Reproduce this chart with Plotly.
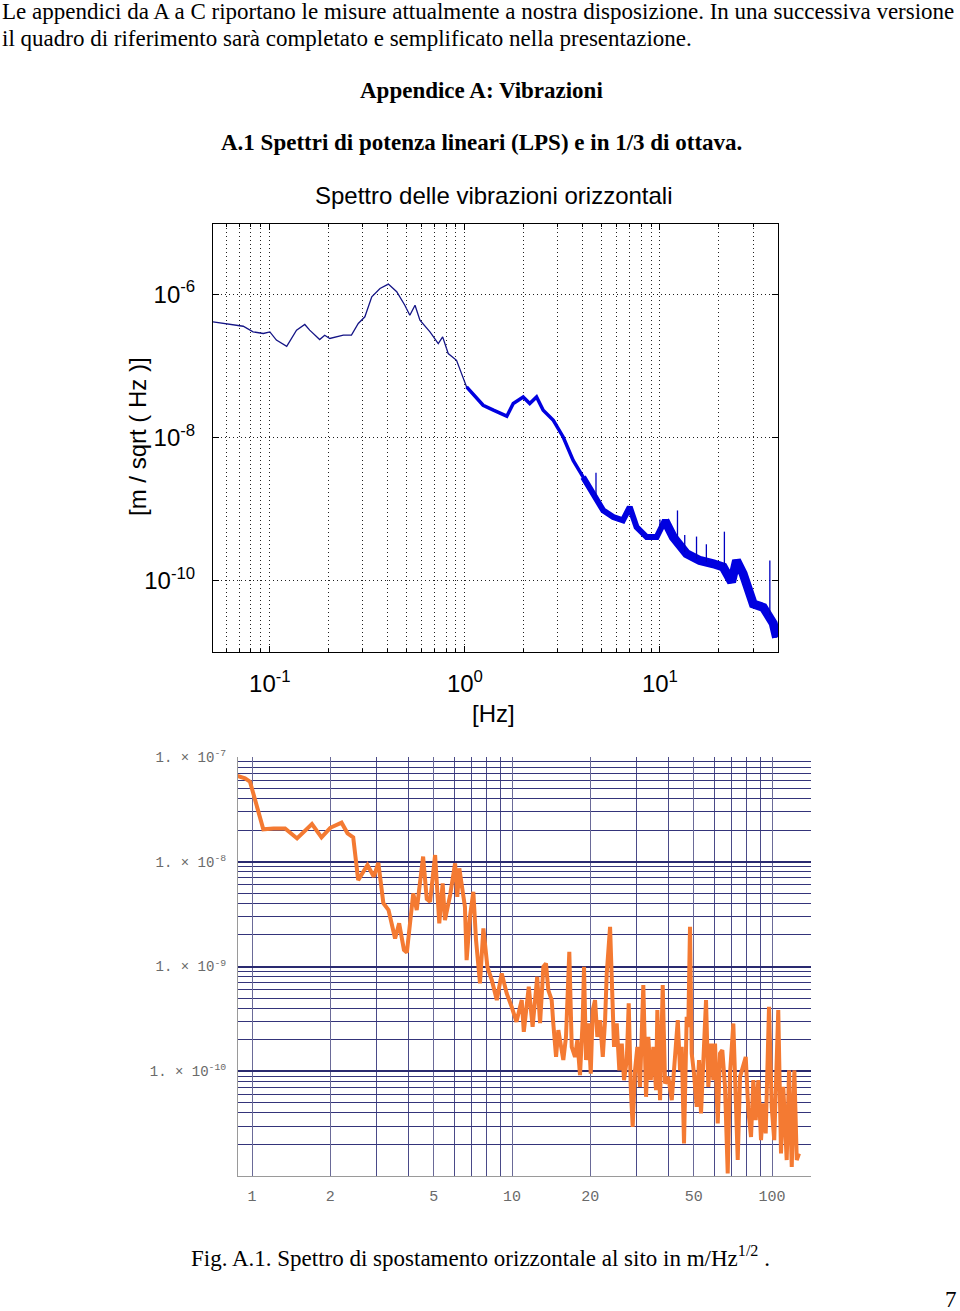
import math
import plotly.graph_objects as go

W, H = 960, 1311

# ---------------- top chart (MATLAB style, horizontal vibration spectrum) -------------
top_freq = [
    0.0511, 0.073, 0.082, 0.0925, 0.1,
    0.108, 0.122, 0.137, 0.151, 0.160,
    0.180, 0.191, 0.203, 0.238, 0.262,
    0.284, 0.307, 0.333, 0.367, 0.405,
    0.447, 0.492, 0.522, 0.555, 0.588,
    0.662, 0.730, 0.769, 0.821, 0.906,
    1.02, 1.10, 1.24, 1.40, 1.64,
    1.77, 1.99, 2.15, 2.33, 2.52,
    2.84, 3.19, 3.59, 4.04, 4.55,
    5.12, 5.76, 6.46, 7.0, 7.59,
    8.55, 9.62, 10.6, 11.7, 13.7,
    16.0, 18.8, 21.1, 23.3, 24.7,
    26.7, 30.1, 33.9, 38.1, 39.6]
top_amp = [
    4.1e-7, 3.56e-7, 2.97e-7, 2.82e-7, 2.97e-7,
    2.28e-7, 1.87e-7, 3.14e-7, 3.77e-7, 3.14e-7,
    2.32e-7, 2.67e-7, 2.4e-7, 2.67e-7, 2.67e-7,
    3.89e-7, 4.82e-7, 9.2e-7, 1.2e-6, 1.38e-6,
    1.08e-6, 7.0e-7, 5.08e-7, 7.0e-7, 4.33e-7,
    2.97e-7, 2.04e-7, 2.53e-7, 1.48e-7, 1.19e-7,
    5.05e-8, 4.08e-8, 2.8e-8, 2.39e-8, 1.97e-8,
    2.96e-8, 3.66e-8, 2.96e-8, 3.66e-8, 2.39e-8,
    1.73e-8, 1.01e-8, 4.76e-9, 2.78e-9, 1.63e-9,
    9.5e-10, 7.7e-10, 6.9e-10, 1.06e-9, 5.56e-10,
    4.03e-10, 4.03e-10, 6.9e-10, 4.03e-10, 2.36e-10,
    1.9e-10, 1.71e-10, 1.54e-10, 9.5e-11, 1.9e-10,
    1.24e-10, 4.7e-11, 4.2e-11, 2.5e-11, 1.6e-11]

spike_freq = [4.7, 10.0, 12.3, 13.4, 15.4, 17.3, 21.4, 36.6]
spike_base = [1.5e-9, 4.5e-10, 4.0e-10, 2.5e-10, 2.0e-10, 1.8e-10, 1.6e-10, 3.3e-11]
spike_peak = [3.2e-9, 7.1e-10, 9.5e-10, 4.3e-10, 4.1e-10, 3.2e-10, 4.8e-10, 1.9e-10]

top_xticks = [0.1, 1, 10]
top_xticktext = ["10<sup>-1</sup>", "10<sup>0</sup>", "10<sup>1</sup>"]
top_yticks = [1e-10, 1e-8, 1e-6]
top_yticktext = ["10<sup>-10</sup>", "10<sup>-8</sup>", "10<sup>-6</sup>"]
top_xminor = [0.06, 0.07, 0.08, 0.09, 0.2, 0.3, 0.4, 0.5, 0.6, 0.7, 0.8, 0.9,
              2, 3, 4, 5, 6, 7, 8, 9, 20, 30, 40]

# ---------------- bottom chart (orange spectrum) ----------------
bottom_freq = [
    0.878, 0.940, 0.982, 1.105, 1.21, 1.34, 1.49, 1.70, 1.85, 2.0,
    2.21, 2.33, 2.45, 2.56, 2.78, 2.94, 3.06, 3.20, 3.35, 3.55,
    3.68, 3.84, 3.94, 4.17, 4.30, 4.55, 4.70, 4.84, 5.06, 5.25,
    5.41, 5.52, 5.78, 6.04, 6.16, 6.27, 6.59, 6.69, 6.89, 7.10,
    7.27, 7.53, 7.76, 8.04, 8.36, 8.74, 9.13, 9.54, 9.97, 10.4,
    10.9, 11.1, 11.6, 12.0, 12.5,
    12.82, 13.20, 13.51, 13.79, 14.21, 14.41, 14.77, 15.07, 15.39, 15.75,
    16.13, 16.61, 16.97, 17.47, 17.83, 18.26, 18.70, 18.92, 19.26, 19.66,
    20.08, 20.44, 20.86, 21.29, 21.81, 22.34, 22.80, 23.14, 23.83, 24.18,
    24.68, 25.28, 25.87, 26.43, 26.97, 27.63, 28.11, 28.61, 29.12, 29.72,
    30.34, 31.07, 31.99, 32.77, 33.44, 34.17, 34.96, 35.80, 36.22, 37.10,
    37.99, 38.78, 39.93, 41.15, 42.37, 43.40, 44.29, 44.96, 45.87, 46.98,
    47.65, 48.37, 49.11, 50.12, 51.33, 52.39, 53.33, 54.43, 55.75, 56.89,
    58.27, 59.47, 60.38, 61.84, 63.10, 64.40, 65.96, 67.55, 68.94, 71.0,
    72.52, 73.82, 75.34, 77.57, 79.23, 81.08, 83.05, 84.76, 86.57, 88.59,
    90.73, 92.58, 94.58, 97.39, 99.73, 102.0, 105.7, 108.3, 110.5, 113.9,
    116.3, 119.1, 121.9, 124.5, 127.0]
bottom_amp = [
    6.59e-8, 6.27e-8, 5.81e-8, 2.04e-8, 2.08e-8, 2.08e-8, 1.67e-8, 2.29e-8, 1.71e-8, 2.11e-8,
    2.36e-8, 1.87e-8, 1.71e-8, 6.68e-9, 9.3e-9, 7.19e-9, 9.78e-9, 4.01e-9, 3.46e-9, 1.85e-9,
    2.58e-9, 1.44e-9, 1.36e-9, 4.99e-9, 3.46e-9, 1.12e-8, 4.41e-9, 4.15e-9, 1.16e-8, 2.58e-9,
    6.22e-9, 2.77e-9, 4.81e-9, 9.66e-9, 4.63e-9, 8.65e-9, 3.72e-9, 1.15e-9, 2.98e-9, 5.16e-9,
    1.79e-9, 6.9e-10, 2.31e-9, 9.9e-10, 7.41e-10, 4.78e-10, 8.59e-10, 5.53e-10, 4.12e-10, 2.96e-10,
    4.78e-10, 2.38e-10, 6.4e-10, 2.65e-10, 7.98e-10,
    2.88e-10, 9.93e-10, 1.07e-9, 5.96e-10, 4.78e-10, 2.88e-10, 1.37e-10, 2.47e-10, 1.71e-10, 1.28e-10,
    2.13e-10, 1.38e-9, 1.71e-10, 1.37e-10, 1.98e-10, 9.2e-11, 3.08e-10, 9.93e-10, 1.28e-10, 2.86e-10,
    9.5e-11, 3.84e-10, 4.78e-10, 2.13e-10, 3.08e-10, 1.37e-10, 3.08e-10, 8.59e-10, 2.39e-9, 6.4e-10,
    1.71e-10, 2.86e-10, 1.02e-10, 1.84e-10, 8.22e-11, 1.28e-10, 4.45e-10, 7.1e-11, 2.94e-11, 1.02e-10,
    1.71e-10, 7.1e-11, 6.64e-10, 5.7e-11, 2.13e-10, 8.22e-11, 1.71e-10, 6.59e-11, 3.84e-10, 5.3e-11,
    6.64e-10, 7.64e-11, 8.83e-11, 5.3e-11, 1.28e-10, 3.08e-10, 1.02e-10, 1.71e-10, 2.04e-11, 3.31e-10,
    2.65e-10, 2.39e-9, 1.48e-10, 9.5e-11, 4.57e-11, 1.28e-10, 3.95e-11, 1.48e-10, 4.78e-10, 7.1e-11,
    1.84e-10, 8.22e-11, 1.84e-10, 3.17e-11, 1.48e-10, 1.59e-10, 7.1e-11, 1.06e-11, 9.5e-11, 2.86e-10,
    5.3e-11, 1.42e-11, 8.83e-11, 1.1e-10, 1.37e-10, 4.26e-11, 2.36e-11, 8.22e-11, 3.41e-11, 8.22e-11,
    2.2e-11, 4.93e-11, 2.55e-11, 4.12e-10, 4.57e-11, 2.2e-11, 3.84e-10, 1.64e-11, 7.1e-11, 1.42e-11,
    1.02e-10, 1.22e-11, 1.02e-10, 1.42e-11, 1.64e-11]

bot_xticks = [1, 2, 5, 10, 20, 50, 100]
bot_xticktext = ["1", "2", "5", "10", "20", "50", "100"]
bot_xminor = [3, 4, 6, 7, 8, 9, 30, 40, 60, 70, 80, 90]
bot_yticks = [1e-7, 1e-8, 1e-9, 1e-10]
bot_yticktext = ["1. × 10<sup>-7</sup>", "1. × 10<sup>-8</sup>",
                 "1. × 10<sup>-9</sup>", "1. × 10<sup>-10</sup>"]
bot_yminor = [k * 10.0 ** d for d in (-11, -10, -9, -8) for k in range(2, 10)]

# ---------------- page texts ----------------
intro_1 = "Le appendici da A a C riportano le misure attualmente a nostra disposizione. In una successiva versione"
intro_2 = "il quadro di riferimento sarà completato e semplificato nella presentazione."
heading_1 = "Appendice A: Vibrazioni"
heading_2 = "A.1 Spettri di potenza lineari (LPS) e in 1/3 di ottava."
top_title = "Spettro delle vibrazioni orizzontali"
top_ylabel = "[m / sqrt ( Hz )]"
top_xlabel = "[Hz]"
caption = "Fig. A.1. Spettro di spostamento orizzontale al sito in m/Hz<sup>1/2</sup> ."
page_no = "7"

fig = go.Figure()

# thin base line
fig.add_trace(go.Scatter(x=top_freq, y=top_amp, mode="lines",
                         line=dict(color="#141486", width=1.3),
                         xaxis="x", yaxis="y", hoverinfo="skip"))
# noisy band (thicker where the measured spectrum is noisy)
for fmin, wdt in ((1.0, 3.5), (4.0, 6), (10.3, 9)):
    xs = [f for f in top_freq if f >= fmin]
    ys = [a for f, a in zip(top_freq, top_amp) if f >= fmin]
    fig.add_trace(go.Scatter(x=xs, y=ys, mode="lines",
                             line=dict(color="#0000e0", width=wdt),
                             xaxis="x", yaxis="y", hoverinfo="skip"))
sx, sy = [], []
for f, b, p in zip(spike_freq, spike_base, spike_peak):
    sx += [f, f, None]
    sy += [b, p, None]
fig.add_trace(go.Scatter(x=sx, y=sy, mode="lines", line=dict(color="#0000c0", width=1.3),
                         xaxis="x", yaxis="y", hoverinfo="skip"))

fig.add_trace(go.Scatter(x=bottom_freq, y=bottom_amp, mode="lines",
                         line=dict(color="#f47a32", width=4),
                         xaxis="x2", yaxis="y2", hoverinfo="skip"))

sans = "Liberation Sans, Arial, sans-serif"
serif = "Liberation Serif, Times New Roman, serif"
mono = "Liberation Mono, Courier New, monospace"

DOT = "1px,3px"
top_grid = dict(showgrid=True, gridcolor="#202020", griddash=DOT, gridwidth=1)

fig.update_layout(
    width=W, height=H, margin=dict(l=0, r=0, t=0, b=0, autoexpand=False),
    paper_bgcolor="white", plot_bgcolor="white", showlegend=False,
    xaxis=dict(type="log", domain=[213 / W, 778 / W], anchor="y",
               range=[math.log10(0.0511), math.log10(40.3)],
               tickmode="array", tickvals=top_xticks, ticktext=top_xticktext,
               tickfont=dict(family=sans, size=24, color="black"),
               ticks="inside", ticklen=6, tickcolor="black",
               showline=True, linecolor="black", linewidth=1, mirror="ticks",
               zeroline=False, ticklabelstandoff=10, **top_grid,
               minor=dict(tickmode="array", tickvals=top_xminor, showgrid=True,
                          gridcolor="#202020", griddash=DOT, gridwidth=1,
                          ticks="inside", ticklen=3, tickcolor="black")),
    yaxis=dict(type="log", domain=[1 - 652 / H, 1 - 224 / H], anchor="x",
               range=[-11.0, -5.02],
               tickmode="array", tickvals=top_yticks, ticktext=top_yticktext,
               tickfont=dict(family=sans, size=24, color="black"),
               ticks="inside", ticklen=6, tickcolor="black",
               showline=True, linecolor="black", linewidth=1, mirror="ticks",
               zeroline=False, ticklabelstandoff=12, **top_grid),
    xaxis2=dict(type="log", domain=[238 / W, 811 / W], anchor="y2",
                range=[-0.054, 2.150],
                tickmode="array", tickvals=bot_xticks, ticktext=bot_xticktext,
                tickfont=dict(family=mono, size=15, color="#6a6a6a"),
                ticks="", showline=True, linecolor="#9a9a9a", linewidth=1,
                zeroline=False, ticklabelstandoff=6,
                showgrid=True, gridcolor="#6a6a98", gridwidth=1.2,
                minor=dict(tickmode="array", tickvals=bot_xminor, showgrid=True,
                           gridcolor="#4a4a88", gridwidth=1.2)),
    yaxis2=dict(type="log", domain=[1 - 1176 / H, 1 - 757 / H], anchor="x2",
                range=[-11.0, -7.0],
                tickmode="array", tickvals=bot_yticks, ticktext=bot_yticktext,
                tickfont=dict(family=mono, size=14, color="#6a6a6a"),
                ticks="", showline=True, linecolor="#9a9a9a", linewidth=1,
                zeroline=False, ticklabelstandoff=8,
                showgrid=True, gridcolor="#2a2a70", gridwidth=2,
                minor=dict(tickmode="array", tickvals=bot_yminor, showgrid=True,
                           gridcolor="#34347a", gridwidth=1.2)),
)


def note(text, px, py, size, family=serif, xanchor="center", color="black", angle=0):
    fig.add_annotation(text=text, x=px / W, y=1 - py / H, xref="paper", yref="paper",
                       xanchor=xanchor, yanchor="middle", showarrow=False, textangle=angle,
                       font=dict(family=family, size=size, color=color))


note(intro_1, 0, 12, 23, xanchor="left")
note(intro_2, 0, 38, 23, xanchor="left")
note("<b>" + heading_1 + "</b>", 481, 90, 23)
note("<b>" + heading_2 + "</b>", 481, 143, 23)
note(top_title, 494, 196, 24, family=sans)
note(top_ylabel, 138, 437, 24, family=sans, angle=-90)
note(top_xlabel, 493, 713, 24, family=sans)
note(caption, 189, 1256, 23, xanchor="left")
note(page_no, 959, 1299, 23, xanchor="right")

fig.write_html("out.html", config={"displayModeBar": False},
               post_script="document.body.style.margin='0';")
